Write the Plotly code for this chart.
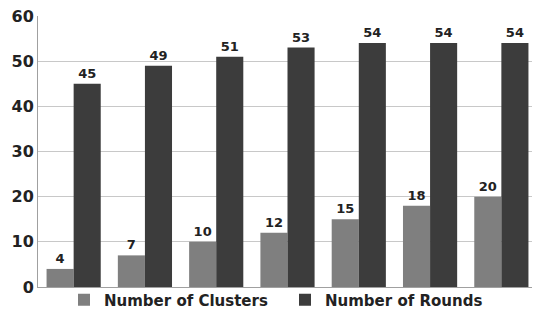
import plotly.graph_objects as go

categories = ["1", "2", "3", "4", "5", "6", "7"]
clusters = [4, 7, 10, 12, 15, 18, 20]
rounds = [45, 49, 51, 53, 54, 54, 54]

# The page body has an 8px margin, so the figure is shifted by 8px.
W, H = 532, 303

fig = go.Figure()
fig.add_trace(go.Bar(x=categories, y=clusters, name="Number of Clusters",
                     marker=dict(color="#7f7f7f", line=dict(width=0)),
                     text=clusters, textposition="outside",
                     textfont=dict(family="DejaVu Sans", size=13, color="#222222"),
                     cliponaxis=False))
fig.add_trace(go.Bar(x=categories, y=rounds, name="Number of Rounds",
                     marker=dict(color="#3c3c3c", line=dict(width=0)),
                     text=rounds, textposition="outside",
                     textfont=dict(family="DejaVu Sans", size=13, color="#222222"),
                     cliponaxis=False))

fig.update_layout(
    width=W, height=H,
    margin=dict(l=30, r=3, t=8, b=24, autoexpand=False),
    paper_bgcolor="white", plot_bgcolor="white",
    barmode="group", bargap=0.24, bargroupgap=0,
    font=dict(family="DejaVu Sans", color="#222222"),
    showlegend=True,
    legend=dict(orientation="h", x=56 / W, xanchor="left", xref="container",
                y=11 / H, yanchor="middle", yref="container",
                bgcolor="rgba(0,0,0,0)",
                font=dict(size=15, color="#222222"),
                traceorder="normal", itemwidth=30,
                entrywidth=176, entrywidthmode="pixels"),
    yaxis=dict(range=[0, 60], dtick=10, showgrid=True, gridcolor="#c8c8c8",
               gridwidth=1, zeroline=False, showline=True, linecolor="#a0a0a0",
               tickfont=dict(size=16, color="#222222", family="DejaVu Sans"),
               ticks="", ticklen=0, automargin=False, ticklabeloverflow="allow"),
    xaxis=dict(showticklabels=False, showline=True, linecolor="#a0a0a0",
               showgrid=False, ticks="", automargin=False),
)
fig.update_traces(texttemplate="<b>%{text}</b>")
fig.for_each_trace(lambda t: t.update(name="<b>" + t.name + "</b>"))
fig.update_yaxes(tickprefix="<b>", ticksuffix="</b>")

fig.write_html("out.html")
